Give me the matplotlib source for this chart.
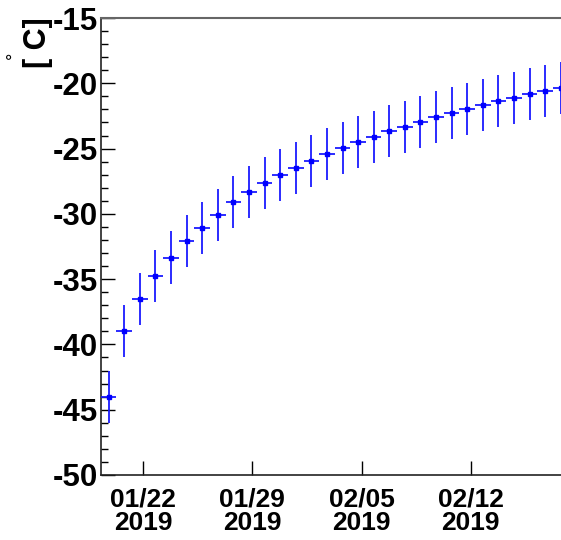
import matplotlib
matplotlib.use("Agg")
import matplotlib.pyplot as plt
import matplotlib.dates as mdates
import numpy as np
import pandas as pd

plt.rcParams['font.family'] = ['Liberation Sans', 'DejaVu Sans']
plt.rcParams['font.weight'] = 'bold'
plt.rcParams['axes.unicode_minus'] = False

# Daily temperature readings (degrees C) with uncertainties
start_time = "2019-01-19 18:40"
temperature = [-44.0, -39.0, -36.5, -34.75, -33.35, -32.1, -31.06, -30.1, -29.1, -28.35,
               -27.66, -27.05, -26.49, -25.93, -25.39, -24.95, -24.47, -24.1, -23.65, -23.32,
               -22.94, -22.58, -22.25, -21.97, -21.64, -21.38, -21.10, -20.85, -20.59, -20.34]
temp_err = [2.0] * len(temperature)
bin_halfwidth_days = 0.5

times = pd.date_range(start=start_time, periods=len(temperature), freq="D")
x = mdates.date2num(times.to_pydatetime())

fig = plt.figure(figsize=(5.61, 5.40), dpi=100)
W, H = 561, 540
left_px, right_px, top_px, bottom_px = 101, 570, 18, 475
ax = fig.add_axes([left_px / W, 1 - bottom_px / H,
                   (right_px - left_px) / W, (bottom_px - top_px) / H])

ax.errorbar(x, temperature, yerr=temp_err, xerr=bin_halfwidth_days,
            fmt='s', color='#0000ff', ecolor='#1a1aff', elinewidth=1.3,
            markersize=3.5, capsize=0, zorder=3)

ref = mdates.date2num(pd.Timestamp("2019-01-22").to_pydatetime())
ax.set_xlim(ref - 2.713, ref + 27.37)
ax.set_ylim(-50, -15)

ax.xaxis.set_major_locator(mdates.DayLocator(bymonthday=[22, 29, 5, 12]))
ax.xaxis.set_major_formatter(mdates.DateFormatter("%m/%d\n%Y"))
ax.yaxis.set_major_locator(matplotlib.ticker.MultipleLocator(5))
ax.yaxis.set_minor_locator(matplotlib.ticker.MultipleLocator(1))

ax.tick_params(axis='y', which='major', direction='in', length=10, width=1,
               labelsize=22.5, pad=2, right=False)
ax.tick_params(axis='y', which='minor', direction='in', length=5, width=1, right=False)
ax.tick_params(axis='x', which='major', direction='in', length=10, width=1,
               labelsize=19, pad=9, top=False)
ax.tick_params(axis='x', which='minor', bottom=False, top=False)

for lab in ax.get_xticklabels():
    lab.set_linespacing(0.97)
    lab.set_fontweight('bold')
for lab in ax.get_yticklabels():
    lab.set_fontweight('bold')

for side in ['left', 'bottom']:
    ax.spines[side].set_color('#222222')
    ax.spines[side].set_linewidth(1.2)
ax.spines['top'].set_color('#666666')
ax.spines['top'].set_linewidth(1.5)
ax.spines['right'].set_visible(False)

# Axis title: "[°C]" with a raised degree sign
fig.text(38 / W, 1 - 17 / H, "[ C]", rotation=90, ha='center', va='top',
         fontsize=22, fontweight='bold')
fig.text(14 / W, 1 - 55 / H, "°", rotation=90, ha='center', va='center',
         fontsize=13, fontweight='normal')

fig.savefig("out.png", dpi=100)
